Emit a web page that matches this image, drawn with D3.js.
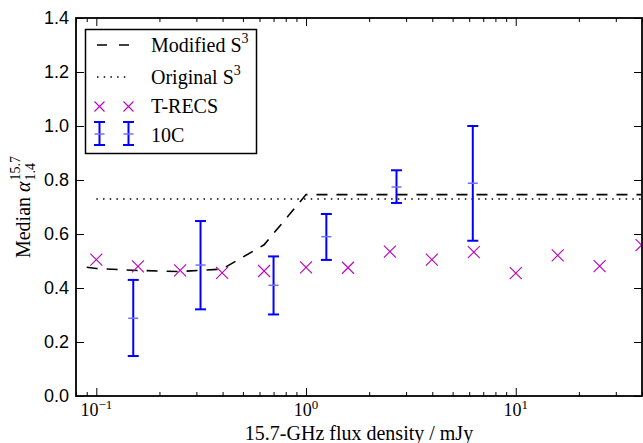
<!DOCTYPE html>
<html>
<head>
<meta charset="utf-8">
<script src="https://cdn.jsdelivr.net/npm/d3@7"></script>
<style>
  body { margin: 0; background: #fff; }
  svg { display: block; font-family: "Liberation Serif", "DejaVu Serif", serif; }
</style>
</head>
<body>
<script>

// T-RECS medians
var trecsX = [0.1, 0.158, 0.251, 0.398, 0.631, 1.0, 1.585, 2.512, 3.981, 6.31, 10, 15.85, 25.12, 39.81]
var trecsY = [0.505, 0.480, 0.465, 0.456, 0.463, 0.476, 0.475, 0.535, 0.505, 0.533, 0.455, 0.521, 0.481, 0.559]

// 10C medians with error bars
var tenCX = [0.15, 0.314, 0.70, 1.25, 2.70, 6.24]
var tenCMed = [0.288, 0.485, 0.410, 0.590, 0.774, 0.788]
var tenCLo = [0.148, 0.321, 0.302, 0.504, 0.715, 0.575]
var tenCHi = [0.430, 0.648, 0.517, 0.674, 0.836, 1.000]

// S3 model curves
var modX = [0.09, 0.1, 0.158, 0.251, 0.398, 0.631, 1.0, 40]
var modY = [0.477, 0.472, 0.465, 0.461, 0.470, 0.56, 0.746, 0.746]
var origX = [0.1, 40]
var origY = [0.730, 0.730]

var xMajor = [0.1, 1, 10]
var xMajorExp = ['\u22121', '0', '1']
var yTicks = [0, 0.2, 0.4, 0.6, 0.8, 1.0, 1.2, 1.4]

var W = 643, H = 443
var L = 76, R = 642, T = 18, B = 396

var svg = d3.select('body').append('svg').attr('width', W).attr('height', H)

var x = d3.scaleLog().domain([0.08, 40]).range([L, R])
var y = d3.scaleLinear().domain([0, 1.4]).range([B, T])

var xMinor = []
;[0.01, 0.1, 1, 10].forEach(function(d){
  for (var k = 2; k <= 9; k++) {
    var v = d * k
    if (v >= 0.08 && v <= 40) xMinor.push(v)
  }
})

svg.append('clipPath').attr('id', 'clip')
  .append('rect').attr('x', L).attr('y', T).attr('width', R - L).attr('height', B - T)

var plot = svg.append('g').attr('clip-path', 'url(#clip)')

var line = d3.line().x(function(d){ return x(d[0]) }).y(function(d){ return y(d[1]) })

plot.append('path')
  .attr('d', line(d3.zip(origX, origY)))
  .attr('fill', 'none').attr('stroke', '#000').attr('stroke-width', 1.5)
  .attr('stroke-dasharray', '1.5,5.2')

plot.append('path')
  .attr('d', line(d3.zip(modX, modY)))
  .attr('fill', 'none').attr('stroke', '#000').attr('stroke-width', 1.6)
  .attr('stroke-dasharray', '11,9')

function cross(g, cx, cy, s) {
  g.append('path')
    .attr('d', 'M' + (cx - s) + ',' + (cy - s) + 'L' + (cx + s) + ',' + (cy + s) +
               'M' + (cx - s) + ',' + (cy + s) + 'L' + (cx + s) + ',' + (cy - s))
    .attr('stroke', '#bf00bf').attr('stroke-width', 1.1).attr('fill', 'none')
}

trecsX.forEach(function(d, i){ cross(plot, x(d), y(trecsY[i]), 6) })

function errbar(g, cx, yl, ym, yh) {
  g.append('line').attr('x1', cx).attr('x2', cx).attr('y1', yl).attr('y2', yh)
    .attr('stroke', '#0000ff').attr('stroke-width', 2)
  ;[yl, yh].forEach(function(v){
    g.append('line').attr('x1', cx - 5.5).attr('x2', cx + 5.5).attr('y1', v).attr('y2', v)
      .attr('stroke', '#0000ff').attr('stroke-width', 2)
  })
  g.append('line').attr('x1', cx - 5).attr('x2', cx + 5).attr('y1', ym).attr('y2', ym)
    .attr('stroke', '#7070ff').attr('stroke-width', 1.5)
}

tenCX.forEach(function(d, i){
  errbar(plot, x(d), y(tenCLo[i]), y(tenCMed[i]), y(tenCHi[i]))
})

// axes: ticks point inward on all four sides
function clean(g) { g.select('.domain').remove(); g.selectAll('line').attr('stroke', '#000').attr('stroke-width', 1) }

svg.append('g').attr('transform', 'translate(0,' + B + ')')
  .call(d3.axisBottom(x).tickValues(xMajor).tickSize(-8).tickFormat('')).call(clean)
svg.append('g').attr('transform', 'translate(0,' + B + ')')
  .call(d3.axisBottom(x).tickValues(xMinor).tickSize(-4).tickFormat('')).call(clean)
svg.append('g').attr('transform', 'translate(0,' + T + ')')
  .call(d3.axisTop(x).tickValues(xMajor).tickSize(-8).tickFormat('')).call(clean)
svg.append('g').attr('transform', 'translate(0,' + T + ')')
  .call(d3.axisTop(x).tickValues(xMinor).tickSize(-4).tickFormat('')).call(clean)

svg.append('g').attr('transform', 'translate(' + L + ',0)')
  .call(d3.axisLeft(y).tickValues(yTicks).tickSize(-8).tickPadding(7).tickFormat(d3.format('.1f')))
  .call(clean)
  .selectAll('text').attr('font-size', 18).attr('font-family', null).attr('fill', '#000')
svg.append('g').attr('transform', 'translate(' + R + ',0)')
  .call(d3.axisRight(y).tickValues(yTicks).tickSize(-8).tickFormat('')).call(clean)

// x tick labels 10^n
xMajor.forEach(function(d, i){
  var t = svg.append('text').attr('x', x(d)).attr('y', 416).attr('text-anchor', 'middle')
    .attr('font-size', 18)
  t.append('tspan').text('10')
  t.append('tspan').attr('dy', -7).attr('font-size', 13).text(xMajorExp[i])
})

svg.append('rect').attr('x', L).attr('y', T).attr('width', R - L).attr('height', B - T)
  .attr('fill', 'none').attr('stroke', '#000').attr('stroke-width', 1.8)

// axis labels
svg.append('text').attr('x', (L + R) / 2).attr('y', 440).attr('text-anchor', 'middle')
  .attr('font-size', 20).text('15.7-GHz flux density / mJy')

var yl = svg.append('g').attr('transform', 'translate(30,' + ((T + B) / 2) + ') rotate(-90)')
var main = yl.append('text').attr('font-size', 20)
main.append('tspan').text('Median ')
main.append('tspan').attr('font-style', 'italic').text('\u03b1')
var mw = main.node().getComputedTextLength()
var sup = yl.append('text').attr('font-size', 14).attr('y', -10).text('15.7')
var sub = yl.append('text').attr('font-size', 14).attr('y', 5).text('1.4')
var sw = Math.max(sup.node().getComputedTextLength(), sub.node().getComputedTextLength())
var x0 = -(mw + sw + 1) / 2
main.attr('x', x0)
sup.attr('x', x0 + mw + 1)
sub.attr('x', x0 + mw + 1)

// legend
var lg = svg.append('g')
lg.append('rect').attr('x', 85.5).attr('y', 29.5).attr('width', 171).attr('height', 124)
  .attr('fill', '#fff').attr('stroke', '#000').attr('stroke-width', 1.5)

var hx0 = 97, hx1 = 129, tx = 151
lg.append('line').attr('x1', hx0).attr('x2', hx1).attr('y1', 45).attr('y2', 45)
  .attr('stroke', '#000').attr('stroke-width', 1.6).attr('stroke-dasharray', '10,12')
lg.append('line').attr('x1', hx0).attr('x2', hx1).attr('y1', 77).attr('y2', 77)
  .attr('stroke', '#000').attr('stroke-width', 1.5).attr('stroke-dasharray', '1.5,5.2')
cross(lg, 99.5, 106.5, 5)
cross(lg, 128.5, 106.5, 5)
errbar(lg, 99.5, 145, 134, 122)
errbar(lg, 128.5, 145, 134, 122)

function legText(yy, label, supTxt) {
  var t = lg.append('text').attr('x', tx).attr('y', yy).attr('font-size', 20)
  t.append('tspan').text(label)
  if (supTxt) t.append('tspan').attr('dy', -9).attr('font-size', 14).text(supTxt)
}
legText(52, 'Modified S', '3')
legText(84, 'Original S', '3')
legText(113, 'T-RECS')
legText(142, '10C')

</script>
</body>
</html>
